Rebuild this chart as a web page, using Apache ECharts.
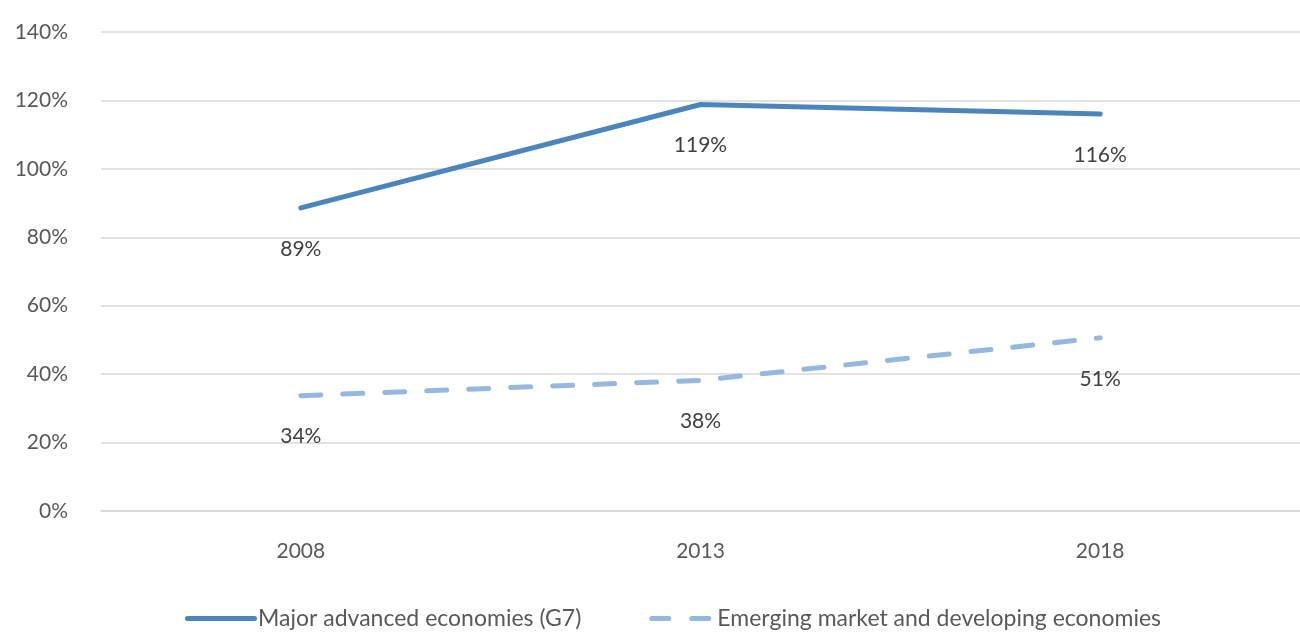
<!DOCTYPE html>
<html><head><meta charset="utf-8">
<script src="https://cdn.jsdelivr.net/npm/echarts@6/dist/echarts.min.js"></script>
<style>html,body{margin:0;padding:0;background:#fff}#c{width:1300px;height:633px}</style>
</head><body><div id="c"></div>
<script>
const categories = ['2008', '2013', '2018'];
const g7Values = [88.6, 118.8, 116.0];
const emValues = [33.7, 38.2, 50.6];
const g7Labels = ['89%', '119%', '116%'];
const emLabels = ['34%', '38%', '51%'];
const seriesNames = ['Major advanced economies (G7)', 'Emerging market and developing economies'];

const FONT = 'Lato';
const C1 = '#4a86bd', C2 = '#95b8e1';
const chart = echarts.init(document.getElementById('c'));
chart.setOption({
  animation: false,
  grid: { left: 101, right: -4, top: 32, bottom: 122, containLabel: false },
  xAxis: {
    type: 'category', data: categories, boundaryGap: true,
    axisLine: { show: true, lineStyle: { color: '#d9d9d9', width: 1.5 } },
    axisTick: { show: false },
    axisLabel: { color: '#595959', fontSize: 21, fontFamily: FONT, margin: 30 }
  },
  yAxis: {
    type: 'value', min: 0, max: 140, interval: 20,
    axisLine: { show: false }, axisTick: { show: false },
    splitLine: { lineStyle: { color: '#d9d9d9', width: 1.5 } },
    axisLabel: { color: '#595959', fontSize: 21, fontFamily: FONT, margin: 33, formatter: '{value}%' }
  },
  legend: {
    bottom: -2, left: 180, itemWidth: 72, itemHeight: 5, itemGap: 68,
    textStyle: { color: '#595959', fontSize: 23, fontFamily: FONT, padding: [0, 0, 0, -4] },
    data: [
      { name: seriesNames[0], icon: 'path://M2.5,0 L69.5,0 A2.5,2.5 0 0 1 69.5,5 L2.5,5 A2.5,2.5 0 0 1 2.5,0 Z', itemStyle: { color: C1, opacity: 1 } },
      { name: seriesNames[1], icon: 'path://M2.5,0 L19.5,0 A2.5,2.5 0 0 1 19.5,5 L2.5,5 A2.5,2.5 0 0 1 2.5,0 Z M42.5,0 L59.5,0 A2.5,2.5 0 0 1 59.5,5 L42.5,5 A2.5,2.5 0 0 1 42.5,0 Z', itemStyle: { color: C2, opacity: 1 } }
    ]
  },
  series: [
    {
      name: seriesNames[0], type: 'line', data: g7Values, symbol: 'circle', symbolSize: 1, showSymbol: true,
      lineStyle: { color: C1, width: 5, cap: 'round' },
      itemStyle: { color: 'rgba(0,0,0,0)' },
      label: { show: true, position: 'bottom', distance: 30, color: '#404040', fontSize: 21, fontFamily: FONT,
        formatter: p => g7Labels[p.dataIndex] }
    },
    {
      name: seriesNames[1], type: 'line', data: emValues, symbol: 'circle', symbolSize: 1, showSymbol: true,
      lineStyle: { color: C2, width: 5, type: [20, 22], cap: 'round' },
      itemStyle: { color: 'rgba(0,0,0,0)' },
      label: { show: true, position: 'bottom', distance: 30, color: '#404040', fontSize: 21, fontFamily: FONT,
        formatter: p => emLabels[p.dataIndex] }
    }
  ]
});
</script></body></html>
